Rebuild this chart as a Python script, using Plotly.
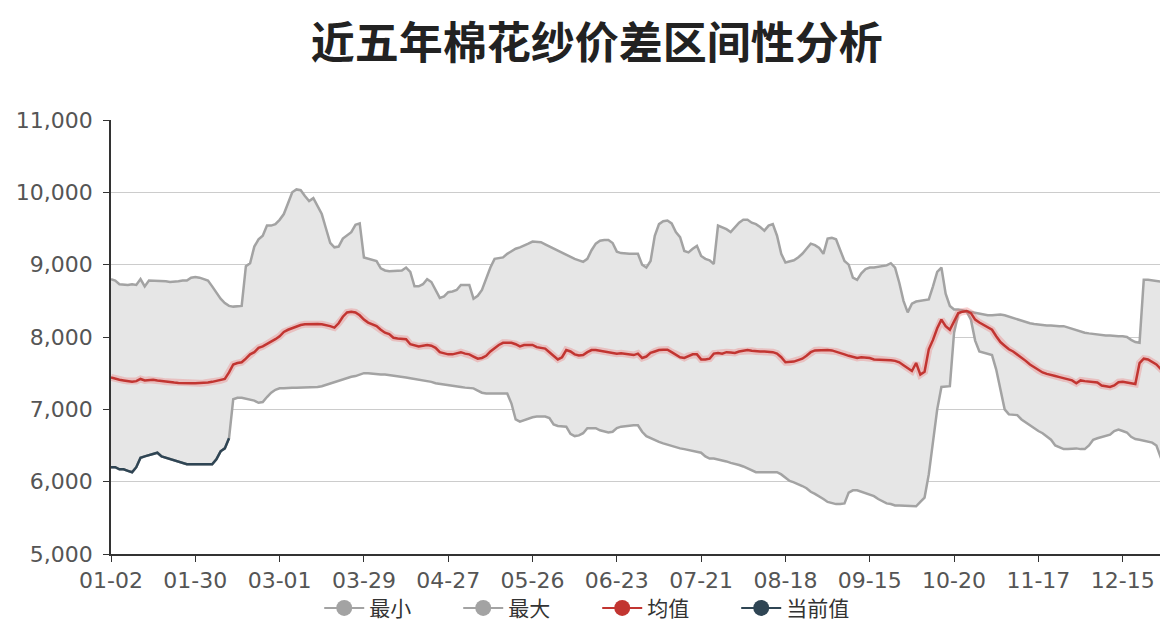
import plotly.graph_objects as go

# ---------------- data ----------------
tick_labels = ["01-02", "01-30", "03-01", "03-29", "04-27", "05-26", "06-23",
               "07-21", "08-18", "09-15", "10-20", "11-17", "12-15"]
TICK_STEP = 20

max_vals = [
    8800, 8780, 8730, 8720, 8720, 8730, 8720, 8800, 8700, 8780,
    8780, 8770, 8780, 8770, 8760, 8760, 8770, 8780, 8780, 8820,
    8830, 8820, 8800, 8780, 8700, 8610, 8530, 8470, 8430, 8420,
    8420, 8430, 8980, 9020, 9250, 9350, 9400, 9540, 9540, 9560,
    9620, 9700, 9850, 10000, 10040, 10030, 9950, 9880, 9920, 9820,
    9700, 9500, 9300, 9240, 9250, 9360, 9400, 9450, 9550, 9570,
    9100, 9080, 9070, 9050, 8950, 8920, 8910, 8910, 8910, 8920,
    8960, 8900, 8700, 8700, 8730, 8800, 8760, 8660, 8540, 8560,
    8620, 8630, 8650, 8720, 8720, 8720, 8530, 8570, 8650, 8800,
    8960, 9080, 9090, 9100, 9150, 9190, 9220, 9240, 9260, 9290,
    9320, 9320, 9310, 9280, 9250, 9220, 9190, 9160, 9130, 9110,
    9080, 9060, 9040, 9080, 9200, 9290, 9330, 9340, 9340, 9300,
    9180, 9160, 9150, 9150, 9150, 9150, 9000, 8960, 9050, 9400,
    9560, 9600, 9610, 9570, 9450, 9380, 9190, 9170, 9220, 9260,
    9120, 9080, 9060, 9010, 9540, 9520, 9490, 9450, 9520, 9580,
    9620, 9620, 9580, 9560, 9520, 9470, 9540, 9560, 9400, 9150,
    9030, 9040, 9060, 9100, 9150, 9220, 9290, 9270, 9230, 9150,
    9360, 9370, 9350, 9200, 9050, 9000, 8820, 8790, 8880, 8940,
    8960, 8960, 8970, 8980, 8990, 9020, 8960, 8750, 8500, 8340,
    8460, 8490, 8500, 8510, 8520, 8700, 8900, 8960, 8600, 8430,
    8380, 8380, 8370, 8360, 8340, 8330, 8320, 8310, 8300, 8300,
    8310, 8310, 8300, 8280, 8260, 8240, 8220, 8210, 8190, 8180,
    8170, 8170, 8160, 8160, 8150, 8150, 8150, 8130, 8110, 8090,
    8080, 8060, 8050, 8040, 8030, 8030, 8020, 8020, 8010, 8010,
    8010, 8000, 7960, 7930, 7920, 8790, 8790, 8780, 8780, 8770,
    8760,
]

min_vals = [
    6200, 6200, 6170, 6170, 6150, 6130, 6200, 6330, 6350, 6370,
    6390, 6400, 6350, 6330, 6310, 6300, 6270, 6250, 6240, 6240,
    6240, 6240, 6240, 6240, 6240, 6310, 6420, 6460, 6600, 7140,
    7160, 7160, 7150, 7140, 7120, 7090, 7100, 7170, 7230, 7270,
    7290, 7290, 7300, 7300, 7300, 7300, 7300, 7300, 7310, 7310,
    7320, 7340, 7360, 7380, 7400, 7420, 7440, 7450, 7460, 7480,
    7500, 7500, 7490, 7490, 7480, 7480, 7470, 7460, 7460, 7450,
    7440, 7430, 7420, 7420, 7400, 7390, 7380, 7360, 7350, 7340,
    7330, 7320, 7320, 7310, 7300, 7300, 7290, 7260, 7230, 7220,
    7220, 7220, 7220, 7230, 7220, 7080, 6860, 6830, 6850, 6880,
    6890, 6900, 6900, 6900, 6880, 6790, 6770, 6770, 6760, 6660,
    6630, 6640, 6670, 6740, 6740, 6740, 6710, 6690, 6680, 6690,
    6740, 6760, 6770, 6780, 6780, 6780, 6690, 6630, 6600, 6570,
    6550, 6530, 6510, 6490, 6470, 6460, 6450, 6440, 6430, 6420,
    6400, 6350, 6320, 6320, 6310, 6300, 6280, 6260, 6250, 6230,
    6210, 6180, 6150, 6130, 6130, 6130, 6130, 6130, 6130, 6100,
    6060, 6010, 5990, 5970, 5940, 5910, 5860, 5830, 5800, 5760,
    5720, 5700, 5690, 5690, 5700, 5850, 5880, 5880, 5860, 5840,
    5830, 5800, 5760, 5730, 5700, 5690, 5670, 5670, 5670, 5670,
    5670, 5660, 5720, 5780, 6100, 6550, 7000, 7310, 7310, 7320,
    8060, 8320, 8360, 8350, 8240, 7950, 7800, 7780, 7770, 7750,
    7550, 7250, 7000, 6930, 6930, 6920, 6860, 6820, 6780, 6730,
    6700, 6670, 6630, 6580, 6500, 6470, 6450, 6450, 6460, 6460,
    6450, 6450, 6500, 6580, 6600, 6620, 6630, 6650, 6700, 6720,
    6700, 6680, 6620, 6590, 6580, 6570, 6560, 6540, 6500, 6330,
    6180,
]

mean_vals = [
    7440, 7420, 7410, 7400, 7390, 7380, 7390, 7420, 7400, 7410,
    7410, 7400, 7390, 7380, 7375, 7370, 7365, 7360, 7360, 7360,
    7360, 7360, 7365, 7370, 7380, 7390, 7400, 7420, 7510, 7620,
    7640, 7650, 7700, 7760, 7790, 7850, 7870, 7900, 7930, 7970,
    8010, 8070, 8100, 8125, 8150, 8165, 8175, 8180, 8180, 8180,
    8175, 8165, 8150, 8130, 8190, 8280, 8340, 8350, 8340, 8300,
    8240, 8200, 8180, 8150, 8100, 8060, 8040, 7990, 7980, 7975,
    7970, 7900, 7880, 7870, 7880, 7890, 7880, 7850, 7790, 7770,
    7760, 7760, 7770, 7790, 7770, 7760, 7730, 7700, 7710, 7740,
    7800, 7850, 7890, 7920, 7920, 7920, 7900, 7870, 7890, 7895,
    7890, 7860, 7850, 7840, 7790, 7740, 7690, 7720, 7820, 7800,
    7760, 7745, 7750, 7790, 7820, 7820, 7810, 7800, 7790, 7770,
    7770, 7775, 7770, 7760, 7750, 7770, 7710, 7730, 7780, 7800,
    7820, 7825, 7825, 7790, 7760, 7720, 7710, 7740, 7760, 7760,
    7690, 7690, 7700, 7770, 7780, 7770, 7790, 7785, 7780, 7800,
    7810, 7820, 7810, 7800, 7800, 7800, 7800, 7790, 7770, 7720,
    7650, 7650, 7660, 7680, 7700, 7740, 7790, 7815, 7820, 7820,
    7820, 7815, 7800, 7780, 7760, 7740, 7720, 7710, 7720, 7715,
    7710, 7690, 7690, 7690, 7690, 7680, 7670, 7650, 7610, 7575,
    7530, 7640, 7480, 7520, 7830, 7960, 8120, 8240, 8150, 8100,
    8215, 8330, 8350, 8360, 8330, 8240, 8200, 8170, 8140, 8100,
    8010, 7930, 7880, 7830, 7800, 7760, 7720, 7670, 7620, 7580,
    7540, 7510, 7490, 7480, 7460, 7445, 7430, 7420, 7400, 7360,
    7400, 7390, 7380, 7375, 7370, 7330, 7320, 7310, 7330, 7375,
    7380, 7370, 7360, 7350, 7640, 7700, 7690, 7660, 7620, 7560,
    7505,
]

current_vals = [
    6200, 6200, 6170, 6170, 6150, 6130, 6200, 6330, 6350, 6370,
    6390, 6400, 6350, 6330, 6310, 6300, 6270, 6250, 6240, 6240,
    6240, 6240, 6240, 6240, 6240, 6310, 6420, 6460, 6600,
]

series_names = ["最小", "最大", "均值", "当前值"]

# ---------------- styles ----------------
GRAY = "#a3a3a3"
FILL = "#e6e6e6"
RED = "#c23531"
DARK = "#2f4554"
FONT = "Noto Sans CJK SC"
TICKFONT = "DejaVu Sans"

x_all = list(range(len(max_vals)))
x_cur = x_all[:len(current_vals)]

fig = go.Figure()

# band: min (invisible base) then max filled to it
fig.add_trace(go.Scatter(x=x_all, y=min_vals, mode="lines",
                         line=dict(color=GRAY, width=0), showlegend=False,
                         hoverinfo="skip"))
fig.add_trace(go.Scatter(x=x_all, y=max_vals, mode="lines", fill="tonexty",
                         fillcolor=FILL, line=dict(color=GRAY, width=2.5),
                         name=series_names[1], showlegend=False))
# min line on top of fill
fig.add_trace(go.Scatter(x=x_all, y=min_vals, mode="lines",
                         line=dict(color=GRAY, width=2.5),
                         name=series_names[0], showlegend=False))
# mean with soft glow
fig.add_trace(go.Scatter(x=x_all, y=mean_vals, mode="lines",
                         line=dict(color="rgba(235,120,120,0.35)", width=7),
                         showlegend=False, hoverinfo="skip"))
fig.add_trace(go.Scatter(x=x_all, y=mean_vals, mode="lines",
                         line=dict(color=RED, width=2.5),
                         name=series_names[2], showlegend=False))
# current
fig.add_trace(go.Scatter(x=x_cur, y=current_vals, mode="lines",
                         line=dict(color=DARK, width=2.5),
                         name=series_names[3], showlegend=False))

# legend entries (line + circle icon)
for nm, col in zip(series_names, [GRAY, GRAY, RED, DARK]):
    fig.add_trace(go.Scatter(x=[None], y=[None], mode="lines+markers",
                             name=nm, line=dict(color=col, width=2),
                             marker=dict(color=col, size=16)))

n_ticks = len(tick_labels)
fig.update_layout(
    width=1168, height=639,
    paper_bgcolor="white", plot_bgcolor="white",
    margin=dict(l=94, r=8, t=112, b=93),
    title=dict(text="<b>近五年棉花纱价差区间性分析</b>", x=0.504, xanchor="center",
               y=0.945, yanchor="middle",
               font=dict(family=FONT, size=44, color="#222222")),
    font=dict(family=FONT, color="#555555"),
    showlegend=True,
    legend=dict(orientation="h", x=0.46, xanchor="center", y=-0.125,
                yanchor="middle", traceorder="normal",
                font=dict(family=FONT, size=21, color="#333333"),
                entrywidth=84, entrywidthmode="pixels", itemwidth=40,
                bgcolor="rgba(0,0,0,0)"),
    hovermode="x",
)

fig.update_xaxes(
    range=[0, 250.75], showgrid=False, zeroline=False,
    showline=True, linecolor="#333333", linewidth=1.5,
    ticks="outside", ticklen=6, tickcolor="#333333", ticklabelstandoff=0,
    tickvals=[i * TICK_STEP for i in range(n_ticks)], ticktext=tick_labels,
    tickfont=dict(family=TICKFONT, size=22, color="#555555"),
)
fig.update_yaxes(
    range=[5000, 11000], dtick=1000, tick0=5000, tickformat=",d",
    showgrid=True, gridcolor="#cccccc", gridwidth=1, zeroline=False,
    showline=True, linecolor="#333333", linewidth=1.5,
    ticks="outside", ticklen=6, tickcolor="#333333", ticklabelstandoff=6,
    tickfont=dict(family=TICKFONT, size=22, color="#555555"),
)

fig.write_html("out.html")
